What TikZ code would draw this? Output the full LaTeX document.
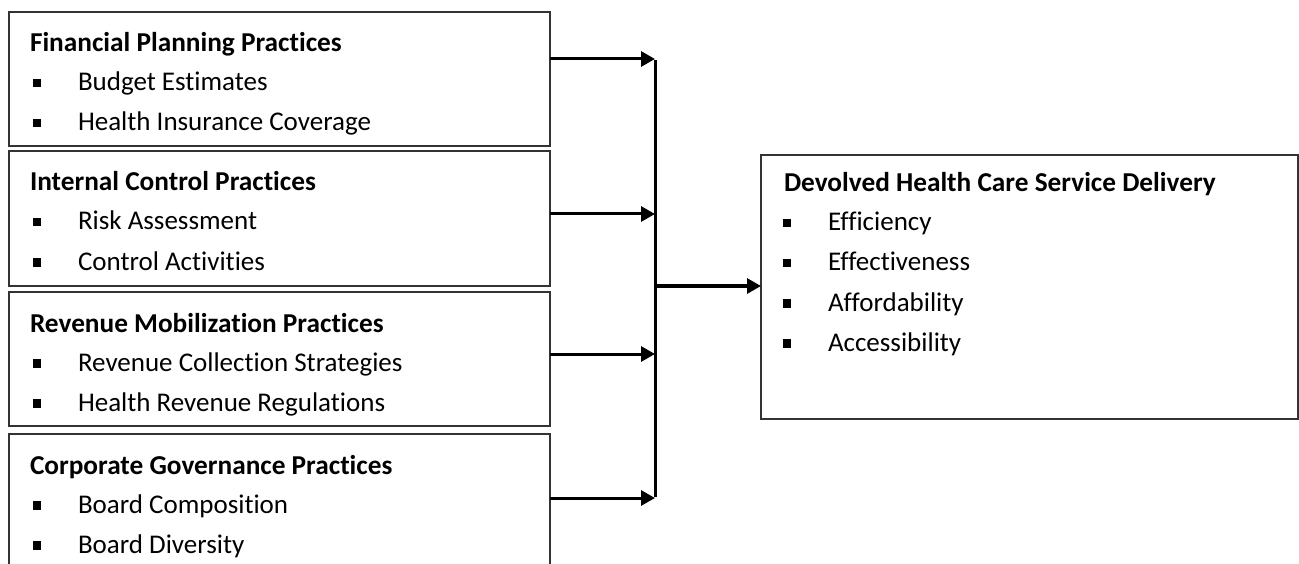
\documentclass[tikz,border=0pt]{standalone}
\usepackage{fontspec}
\setmainfont{Carlito}[Ligatures=CommonOff]
\usetikzlibrary{arrows.meta}
\newcommand{\bul}{\makebox[45pt][l]{\rule[3.5pt]{8pt}{8.5pt}}}
\newcommand{\bigfont}{\fontsize{27}{32}\selectfont}
\tikzset{
  box/.style={draw=black!80, line width=1.4pt, rectangle, anchor=north west, inner sep=0pt, outer sep=0pt},
  txt/.style={anchor=base west, inner sep=0pt, outer sep=0pt, font=\bigfont},
  ttl/.style={txt, font=\fontsize{27.3}{32}\selectfont\bfseries},
  arr/.style={line width=3pt, -{Triangle[length=14pt,width=15pt]}},
  ln/.style={line width=3pt}
}
\begin{document}
\begin{tikzpicture}[x=1pt,y=-1pt]
\clip (0,0) rectangle (1299,564);
\fill[white] (0,0) rectangle (1299,564);
% left boxes
\node[box, minimum width=541pt, minimum height=134pt] (b1) at (9,12) {};
\node[box, minimum width=541pt, minimum height=135pt] (b2) at (9,151) {};
\node[box, minimum width=541pt, minimum height=134pt] (b3) at (9,292) {};
\node[box, minimum width=541pt, minimum height=160pt] (b4) at (9,434) {};
% right box
\node[box, minimum width=537pt, minimum height=264pt] (out) at (761,155) {};
% texts box 1
\begin{scope}
\clip (9,12) rectangle (550,135);
\node[ttl] (t1) at (30,52) {Financial Planning Practices};
\node[txt] (t1a) at (33,91) {\bul Budget Estimates};
\node[txt] (t1b) at (33,131) {\bul Health Insurance Coverage};
\end{scope}
\begin{scope}
\clip (9,151) rectangle (550,275);
\node[ttl] (t2) at (30,191) {Internal Control Practices};
\node[txt] (t2a) at (33,230) {\bul Risk Assessment};
\node[txt] (t2b) at (33,270) {\bul Control Activities};
\end{scope}
\begin{scope}
\clip (9,292) rectangle (550,415);
\node[ttl] (t3) at (30,332) {Revenue Mobilization Practices};
\node[txt] (t3a) at (33,371) {\bul Revenue Collection Strategies};
\node[txt] (t3b) at (33,411) {\bul Health Revenue Regulations};
\end{scope}
\node[ttl] (t4) at (30,474) {Corporate Governance Practices};
\node[txt] (t4a) at (33,513) {\bul Board Composition};
\node[txt] (t4b) at (33,553) {\bul Board Diversity};
% right texts
\node[ttl] (to) at (784,192) {Devolved Health Care Service Delivery};
\node[txt] (toa) at (783,231) {\bul Efficiency};
\node[txt] (tob) at (783,271) {\bul Effectiveness};
\node[txt] (toc) at (783,311) {\bul Affordability};
\node[txt] (tod) at (783,351) {\bul Accessibility};
% connectors
\coordinate (j1) at (655,59);
\coordinate (j2) at (655,214);
\coordinate (j3) at (655,354);
\coordinate (j4) at (655,498);
\coordinate (jm) at (655,286);
\draw[arr] (b1.east |- j1) -- (j1);
\draw[arr] (b2.east |- j2) -- (j2);
\draw[arr] (b3.east |- j3) -- (j3);
\draw[arr] (b4.east |- j4) -- (j4);
\draw[ln] ([yshift=-1.5pt]j1) -- ([yshift=1.5pt]j4);
\draw[arr] (jm) -- (out.west |- jm);
\end{tikzpicture}
\end{document}
